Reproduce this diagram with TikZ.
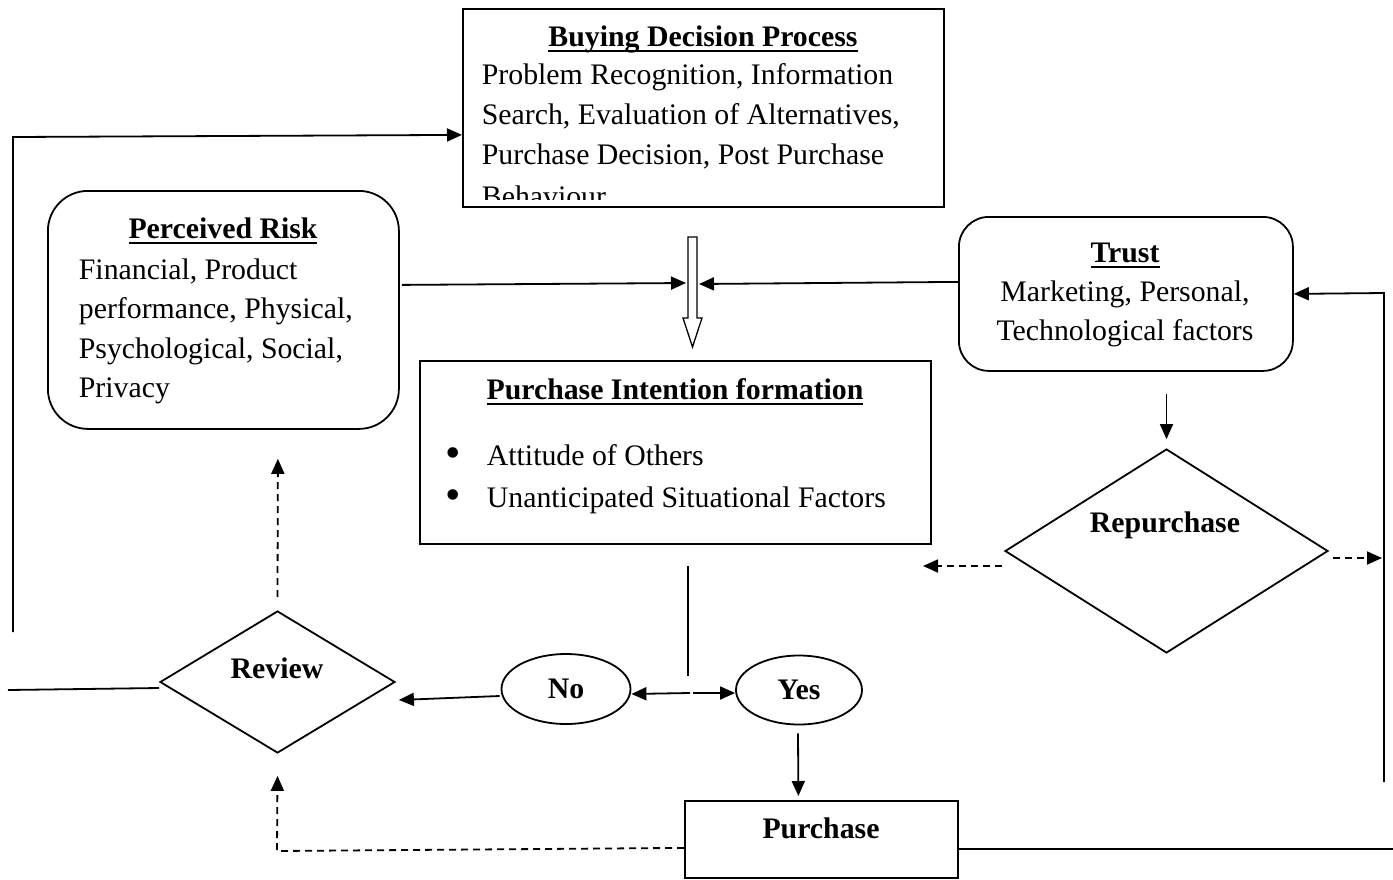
\documentclass[tikz,border=0pt]{standalone}
\usepackage{fontspec}
\setmainfont{Liberation Serif}
\usetikzlibrary{shapes.geometric,arrows.meta}
\newcommand{\myul}[1]{\setbox0=\hbox{#1}\rlap{\rule[-6pt]{\wd0}{1.8pt}}\box0}
\begin{document}
\begin{tikzpicture}[x=1pt,y=-1pt,line width=1.8pt,
  box/.style={draw,rectangle,inner sep=0pt,anchor=north west},
  rbox/.style={draw,rectangle,inner sep=0pt,anchor=north west,rounded corners=#1},
  txt/.style={inner sep=0pt,font=\fontsize{29.8}{40}\selectfont},
  ttl/.style={inner sep=0pt,anchor=base,font=\fontsize{29.8}{40}\selectfont\bfseries},
  ln/.style={txt,anchor=base west},
  lnc/.style={txt,anchor=base},
  bul/.style={inner sep=0pt,anchor=base,font=\fontsize{44}{40}\selectfont},
  diam/.style={draw,diamond,inner sep=0pt},
  ell/.style={draw,ellipse,inner sep=0pt,font=\fontsize{29.8}{40}\selectfont\bfseries},
  arr/.style={-{Triangle[length=15pt,width=13pt]}},
  darr/.style={arr,dash pattern=on 7pt off 5pt}]
\useasboundingbox (0,0) rectangle (1393,879);
\fill[white] (0,0) rectangle (1393,879);

% Buying Decision Process
\node[box,minimum width=481pt,minimum height=198pt] (bdp) at (462,8) {};
\begin{scope}
  \clip (462,8) rectangle (943,199);
  \node[ttl] (bdpt) at (703,46) {\myul{Buying Decision Process}};
  \node[ln] (bdp1) at (481,84) {Problem Recognition, Information};
  \node[ln] (bdp2) at (481,124) {Search, Evaluation of Alternatives,};
  \node[ln] (bdp3) at (481,164) {Purchase Decision, Post Purchase};
  \node[ln] (bdp4) at (481,206) {Behaviour};
\end{scope}

% Perceived Risk
\node[rbox=40pt,minimum width=351pt,minimum height=238pt] (pr) at (47,190) {};
\node[ttl] (prt) at (223,238) {\myul{Perceived Risk}};
\node[ln] (pr1) at (78,279) {Financial, Product};
\node[ln] (pr2) at (78,318) {performance, Physical,};
\node[ln] (pr3) at (78,358) {Psychological, Social,};
\node[ln] (pr4) at (78,397) {Privacy};

% Trust
\node[rbox=30pt,minimum width=334pt,minimum height=154pt] (tr) at (958,216) {};
\node[ttl] (trt) at (1125,262) {\myul{Trust}};
\node[lnc] (tr1) at (1125,301) {Marketing, Personal,};
\node[lnc] (tr2) at (1125,340) {Technological factors};

% Purchase Intention formation
\node[box,minimum width=511pt,minimum height=183pt] (pi) at (419,360) {};
\node[ttl] (pit) at (675,399) {\myul{Purchase Intention formation}};
\node[bul] (pib1) at (453,467) {•};
\node[ln] (pi1) at (486,465) {Attitude of Others};
\node[bul] (pib2) at (453,509) {•};
\node[ln] (pi2) at (486,507) {Unanticipated Situational Factors};

% hollow arrow
\draw[line width=1.3pt,fill=white] (688,237) -- (697,237) -- (697,318) -- (702,318)
  -- (692.5,347) -- (683,318) -- (688,318) -- cycle;
\coordinate (hl) at (686,283);
\coordinate (hr) at (699,284);

% Review, No, Yes, Purchase
\node[diam,minimum width=235pt,minimum height=142pt] (rev) at (277.5,682) {};
\node[ttl] (revt) at (277,678) {Review};
\node[ell,minimum width=129pt,minimum height=70pt] (no) at (566,689) {No};
\node[ell,minimum width=126pt,minimum height=69pt] (yes) at (799,690) {Yes};
\node[box,minimum width=273pt,minimum height=77pt] (pur) at (684,800) {};
\node[ttl] (purt) at (821,838) {Purchase};

% Repurchase
\node[diam,minimum width=323pt,minimum height=204pt] (rep) at (1166.5,551) {};
\node[ttl] (rept) at (1165,532) {Repurchase};

% connectors
\coordinate (lb) at (13,632);
\coordinate (lt) at (13,137);
\draw[arr] (lb) -- (lt) -- ([yshift=-27pt]bdp.west);
\draw[arr] ([xshift=2pt,yshift=25pt]pr.east) -- (hl);
\draw[arr] ([yshift=12pt]tr.west) -- (hr);

\coordinate (rl) at (8,690);
\draw (rl) -- ([yshift=-6pt]rev.west);
\draw[darr] ([yshift=13pt]rev.north) -- ([xshift=54.5pt,yshift=-29pt]pr.south);
\draw[arr] ([xshift=-1pt,yshift=-7pt]no.west) -- ([xshift=3pt,yshift=-18pt]rev.east);

\coordinate (st) at (688,566);
\coordinate (sp) at (688,676);
\draw (st) -- (sp);
\coordinate (sl) at (690,693);
\coordinate (sr) at (693,693);
\draw[arr] (sl) -- ([yshift=-5pt]no.east);
\draw[arr] (sr) -- ([yshift=-3pt]yes.west);
\draw[arr] ([xshift=-1pt,yshift=-8pt]yes.south) -- ([xshift=-23pt,yshift=4pt]pur.north);

\coordinate (dc) at (277,851);
\draw[darr] ([yshift=-8.5pt]pur.west) -- (dc) -- ([yshift=-22pt]rev.south);
\coordinate (br) at (1393,849);
\draw ([yshift=-9.5pt]pur.east) -- (br);

\coordinate (rb) at (1384,782);
\coordinate (rt) at (1384,293);
\draw[arr] (rb) -- (rt) -- (tr.east);

\draw[arr] ([yshift=54pt]rep.north) -- ([yshift=9pt]rep.north);
\coordinate (rl2) at (923,566);
\draw[darr] ([xshift=-2pt,yshift=-15pt]rep.west) -- (rl2);
\coordinate (rr2) at (1382,558);
\draw[darr] ([xshift=4pt,yshift=-7pt]rep.east) -- (rr2);
\end{tikzpicture}
\end{document}
